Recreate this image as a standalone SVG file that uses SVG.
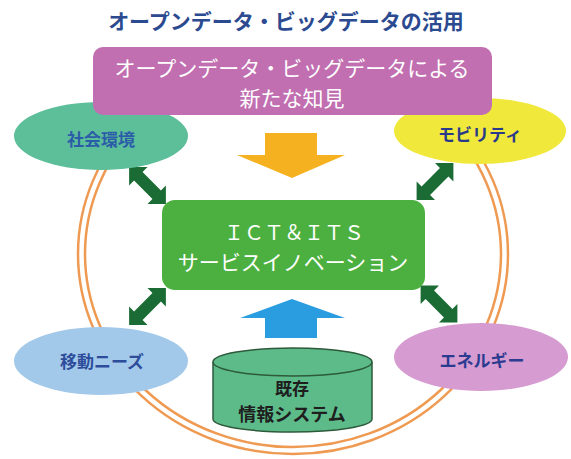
<svg xmlns="http://www.w3.org/2000/svg" width="571" height="459" viewBox="0 0 571 459">
<defs>
<style>
text{font-family:"Noto Sans CJK JP","Noto Sans",sans-serif;text-anchor:middle}
.ring{fill:none;stroke:#ef9a52;stroke-width:2.5}
.lbl{font-size:17px;font-weight:bold}
.w{fill:#fff}
.dbl{fill:#1b6b34}
</style>
<polygon id="dbl" points="-26,0 -13,-13 -13,-6 13,-6 13,-13 26,0 13,13 13,6 -13,6 -13,13"/>
</defs>
<rect width="571" height="459" fill="#fff"/>
<g id="ring">
<ellipse class="ring" cx="293" cy="254" rx="215" ry="200"/>
<ellipse class="ring" cx="293" cy="254" rx="208" ry="193"/>
</g>
<g id="connectors">
<use href="#dbl" class="dbl" transform="translate(147.5,185.5) rotate(45)"/>
<use href="#dbl" class="dbl" transform="translate(435,181.5) rotate(-45)"/>
<use href="#dbl" class="dbl" transform="translate(147.5,306.5) rotate(-45)"/>
<use href="#dbl" class="dbl" transform="translate(439,304) rotate(45)"/>
<polygon id="arrow-down" fill="#f5b120" points="265,133 317,133 317,155 345,155 292,178 237,155 265,155"/>
<polygon id="arrow-up" fill="#2a9de0" points="292,299 345,318 317,318 317,338 265,338 265,318 240,318"/>
</g>
<g id="env">
<ellipse cx="101" cy="136" rx="87" ry="34" fill="#5dbe9a"/>
<text class="lbl" x="101" y="146" fill="#2b5ca8">社会環境</text>
</g>
<g id="mobility">
<ellipse cx="480" cy="131" rx="86" ry="33" fill="#f0e83a"/>
<text class="lbl" x="480" y="141" fill="#2a3a8a">モビリティ</text>
</g>
<g id="needs">
<ellipse cx="101" cy="361" rx="87" ry="34" fill="#a2c8ea"/>
<text class="lbl" x="102" y="368" fill="#2d4d9a">移動ニーズ</text>
</g>
<g id="energy">
<ellipse cx="481" cy="357" rx="87" ry="34" fill="#d69bd0"/>
<text class="lbl" x="482" y="367" fill="#2b3b90">エネルギー</text>
</g>
<g id="knowledge">
<rect x="93" y="47" width="399" height="68" rx="10" fill="#c16fb1"/>
<text class="w" x="292" y="76" font-size="21">オープンデータ・ビッグデータによる</text>
<text class="w" x="292" y="106" font-size="21">新たな知見</text>
</g>
<g id="ict">
<rect x="162" y="200" width="263" height="90" rx="13" fill="#4cb040"/>
<text class="w" x="294" y="240" font-size="20">ＩＣＴ＆ＩＴＳ</text>
<text class="w" x="293" y="270" font-size="21">サービスイノベーション</text>
</g>
<g id="legacy">
<path d="M213,362 A79.5,14 0 0 1 372,362 L372,419 A79.5,13 0 0 1 213,419 Z" fill="#5dbb8a" stroke="#2d5a3a" stroke-width="1.5"/>
<path d="M213,362 A79.5,14 0 0 0 372,362" fill="none" stroke="#2d5a3a" stroke-width="1.5"/>
<text x="292" y="395" font-size="17" font-weight="bold" fill="#1e1e1e">既存</text>
<text x="292" y="421" font-size="18" font-weight="bold" fill="#1e1e1e">情報システム</text>
</g>
<g id="title">
<text x="286" y="29" font-size="21" font-weight="bold" fill="#2b4a90">オープンデータ・ビッグデータの活用</text>
</g>
</svg>
